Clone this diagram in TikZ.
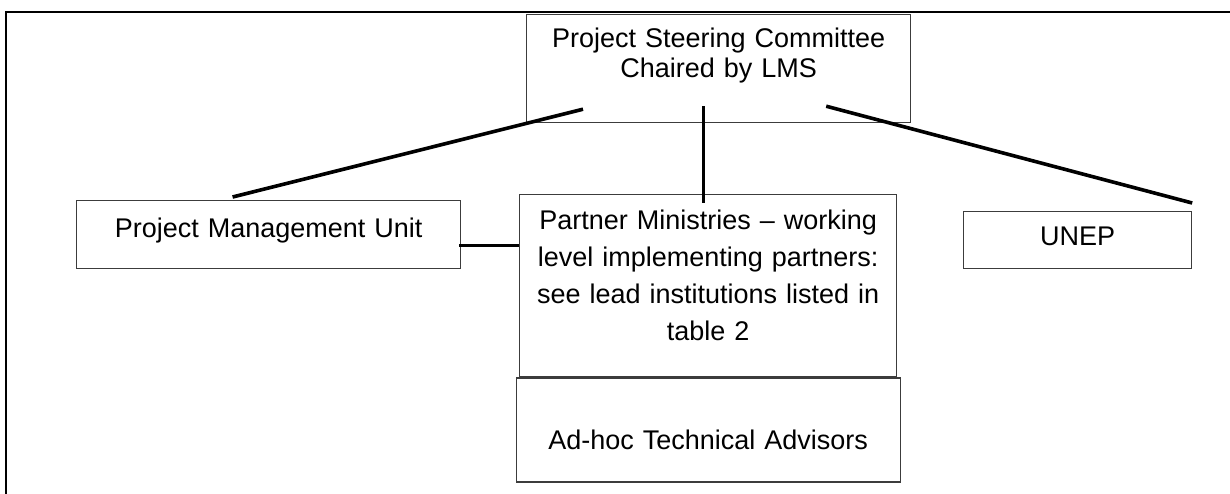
\documentclass[tikz,border=0pt]{standalone}
\usepackage{fontspec}
\setmainfont{Liberation Sans}
\usetikzlibrary{positioning,calc}
\definecolor{boxline}{RGB}{60,60,60}

\begin{document}
\begin{tikzpicture}[
  x=0.5pt, y=-0.5pt,
  box/.style={draw=boxline,line width=0.6pt,inner sep=0pt,align=center,font=\fontsize{13.5}{18.5}\selectfont},
  link/.style={line width=1.8pt},
  frame/.style={line width=1pt},
]
  \useasboundingbox (0,0) rectangle (1230,493);
  \clip (0,0) rectangle (1230,493);
  \draw[frame] (6,520) -- (6,12) -- (1260,12);
  % steering committee on top
  \node[box,anchor=north west,text width=192pt,text height=16.25pt,text depth=37.75pt,
        font=\fontsize{13.5}{15}\selectfont] (psc) at (526,14) {Project Steering Committee\\Chaired by LMS};
  % second row
  \node[box,anchor=north west,text width=192pt,text height=18.25pt,text depth=15.75pt] (pmu) at (76,200) {Project Management Unit};
  \node[box,below=35.5pt of psc,xshift=-5.25pt,text width=188.5pt,text height=17.25pt,text depth=73.75pt] (partner)
    {Partner Ministries -- working\\level implementing partners:\\see lead institutions listed in\\table 2};
  \node[box,anchor=north west,text width=114pt,text height=16.75pt,text depth=11.75pt] (unep) at (963,211) {UNEP};
  \node[box,below=0pt of partner,text width=192pt,text height=35.75pt,text depth=16.25pt] (adhoc) {Ad-hoc Technical Advisors};
  % links
  \draw[link] ($(psc.south west)+(57,-14)$) -- ($(pmu.north)+(-36,-3)$);
  \draw[link] ($(psc.south)+(-15,-17)$) -- ($(psc.south |- partner.north)+(-15,9)$);
  \draw[link] ($(psc.south east)+(-85,-17)$) -- ($(unep.north east)+(0,-8)$);
  \draw[link] ($(pmu.east)+(-2,11)$) -- ($(pmu.east -| partner.west)+(0,11)$);
\end{tikzpicture}
\end{document}
